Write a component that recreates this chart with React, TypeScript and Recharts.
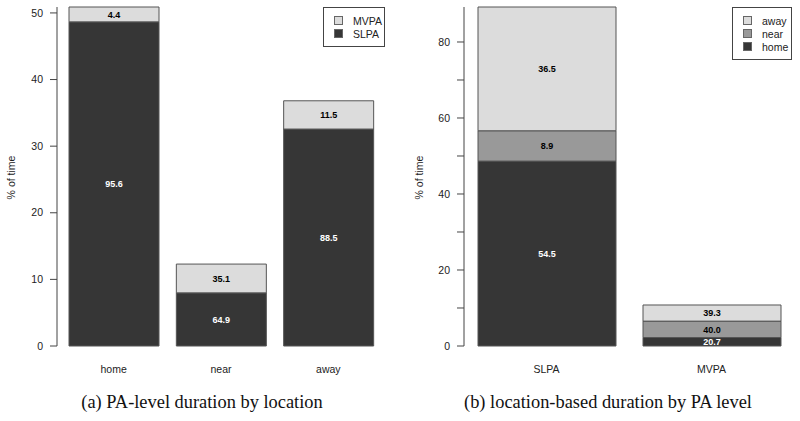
import React from 'react';
import { BarChart, Bar, XAxis, YAxis, LabelList, Label } from 'recharts';

// ---- data ----
const locations = ['home', 'near', 'away'];
const paLevels = ['SLPA', 'MVPA'];
// % of time spent per location, split by PA level
const slpaByLocation = [48.66, 7.98, 32.57];
const mvpaByLocation = [2.23, 4.32, 4.24];
// in-bar labels (a): share of each PA level within a location
const slpaShareOfLocation = ['95.6', '64.9', '88.5'];
const mvpaShareOfLocation = ['4.4', '35.1', '11.5'];
// in-bar labels (b): share of each location within a PA level
const homeShareOfLevel = ['54.5', '20.7'];
const nearShareOfLevel = ['8.9', '40.0'];
const awayShareOfLevel = ['36.5', '39.3'];
const leftTicks = [0, 10, 20, 30, 40, 50];
const rightTicks = [0, 10, 20, 30, 40, 50, 60, 70, 80];

const DARK = '#363636';
const MID = '#999999';
const LIGHT = '#dcdcdc';
const EDGE = '#555555';

const leftData = locations.map((loc, i) => ({
  loc,
  SLPA: slpaByLocation[i],
  MVPA: mvpaByLocation[i],
  SLPA_lbl: slpaShareOfLocation[i],
  MVPA_lbl: mvpaShareOfLocation[i],
}));
const levelValues = [slpaByLocation, mvpaByLocation];
const rightData = paLevels.map((lvl, j) => ({
  lvl,
  home: levelValues[j][0],
  near: levelValues[j][1],
  away: levelValues[j][2],
  home_lbl: homeShareOfLevel[j],
  near_lbl: nearShareOfLevel[j],
  away_lbl: awayShareOfLevel[j],
}));
const leftMax = Math.max(...leftData.map((d) => d.SLPA + d.MVPA));
const rightMax = Math.max(...rightData.map((d) => d.home + d.near + d.away));

const leftLegend = [
  { name: 'MVPA', color: LIGHT },
  { name: 'SLPA', color: DARK },
];
const rightLegend = [
  { name: 'away', color: LIGHT },
  { name: 'near', color: MID },
  { name: 'home', color: DARK },
];

const FONT = '"Liberation Sans", Arial, sans-serif';
const tickStyle = { fontSize: 10.5, fill: '#222', fontFamily: FONT };
const lblStyle = { fontSize: 9, fontWeight: 'bold', fontFamily: FONT };

const YLabel = (dx: number) => (props: any) => {
  const vb = props.viewBox || {};
  const x = (vb.x || 0) + dx;
  const y = (vb.y || 0) + (vb.height || 0) / 2 + 1;
  return (
    <text
      x={x}
      y={y}
      transform={`rotate(-90, ${x}, ${y})`}
      textAnchor="middle"
      fontSize={10.5}
      fontFamily={FONT}
      fill="#222"
    >
      % of time
    </text>
  );
};

const Legend = ({ items, left, top, width, height }: any) => (
  <div
    style={{
      position: 'absolute',
      left,
      top,
      width,
      height,
      boxSizing: 'border-box',
      border: '1px solid #444',
      background: '#fff',
      fontFamily: FONT,
      fontSize: 10.5,
      color: '#222',
      paddingTop: 6,
      paddingLeft: 10,
    }}
  >
    {items.map((it: any) => (
      <div key={it.name} style={{ display: 'flex', alignItems: 'center', height: 13 }}>
        <span
          style={{
            display: 'inline-block',
            width: 7,
            height: 7,
            background: it.color,
            border: '1px solid #666',
            marginRight: 10,
          }}
        />
        <span>{it.name}</span>
      </div>
    ))}
  </div>
);

const Caption = ({ text, center }: any) => (
  <div
    style={{
      position: 'absolute',
      left: center - 200,
      width: 400,
      top: 392,
      textAlign: 'center',
      fontFamily: '"Liberation Serif", "Times New Roman", serif',
      fontSize: 18.4,
      color: '#111',
      whiteSpace: 'nowrap',
    }}
  >
    {text}
  </div>
);

export default function App() {
  return (
    <div
      style={{
        position: 'absolute',
        left: 0,
        top: 0,
        width: 800,
        height: 421,
        background: '#fff',
        overflow: 'hidden',
      }}
    >
      <div style={{ position: 'absolute', left: 0, top: 0 }}>
        <BarChart
          width={400}
          height={380}
          data={leftData}
          margin={{ top: 7, right: 18, bottom: 4, left: 0 }}
        >
          <XAxis
            dataKey="loc"
            axisLine={false}
            tickLine={false}
            tickSize={0}
            tickMargin={20}
            padding={{ left: 3, right: 0 }}
            height={30}
            tick={tickStyle}
          />
          <YAxis
            type="number"
            domain={[0, leftMax]}
            ticks={leftTicks}
            width={57}
            tickSize={7}
            tickMargin={7}
            stroke="#444"
            tick={tickStyle}
            interval={0}
          >
            <Label content={YLabel(15)} />
          </YAxis>
          <Bar dataKey="SLPA" stackId="a" fill={DARK} stroke={EDGE} barSize={90} isAnimationActive={false}>
            <LabelList dataKey="SLPA_lbl" position="center" fill="#fff" style={lblStyle} />
          </Bar>
          <Bar dataKey="MVPA" stackId="a" fill={LIGHT} stroke={EDGE} barSize={90} isAnimationActive={false}>
            <LabelList dataKey="MVPA_lbl" position="center" fill="#000" style={lblStyle} />
          </Bar>
        </BarChart>
      </div>
      <div style={{ position: 'absolute', left: 400, top: 0 }}>
        <BarChart
          width={400}
          height={380}
          data={rightData}
          margin={{ top: 7, right: 6, bottom: 4, left: 0 }}
        >
          <XAxis
            dataKey="lvl"
            axisLine={false}
            tickLine={false}
            tickSize={0}
            tickMargin={20}
            height={30}
            tick={tickStyle}
          />
          <YAxis
            type="number"
            domain={[0, rightMax]}
            ticks={rightTicks}
            width={64}
            tickSize={7}
            tickMargin={7}
            stroke="#444"
            tick={tickStyle}
            interval={0}
            tickFormatter={(v: number) => (v % 20 === 0 ? String(v) : '')}
          >
            <Label content={YLabel(23)} />
          </YAxis>
          <Bar dataKey="home" stackId="b" fill={DARK} stroke={EDGE} barSize={138} isAnimationActive={false}>
            <LabelList dataKey="home_lbl" position="center" fill="#fff" style={lblStyle} />
          </Bar>
          <Bar dataKey="near" stackId="b" fill={MID} stroke={EDGE} barSize={138} isAnimationActive={false}>
            <LabelList dataKey="near_lbl" position="center" fill="#000" style={lblStyle} />
          </Bar>
          <Bar dataKey="away" stackId="b" fill={LIGHT} stroke={EDGE} barSize={138} isAnimationActive={false}>
            <LabelList dataKey="away_lbl" position="center" fill="#000" style={lblStyle} />
          </Bar>
        </BarChart>
      </div>
      <Legend items={leftLegend} left={323} top={7} width={62} height={40} />
      <Legend items={rightLegend} left={732} top={7} width={60} height={53} />
      <Caption text="(a) PA-level duration by location" center={202} />
      <Caption text="(b) location-based duration by PA level" center={608} />
    </div>
  );
}
